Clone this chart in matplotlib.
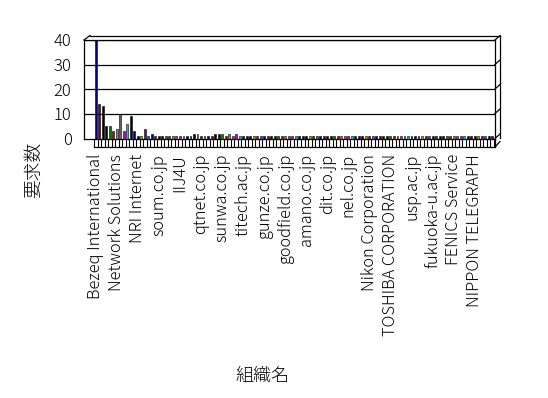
import numpy as np
import matplotlib
matplotlib.use('Agg')
import matplotlib.pyplot as plt
from matplotlib.lines import Line2D

plt.rcParams['font.family'] = ['Noto Sans CJK JP', 'DejaVu Sans']

# request counts per organisation (114 categories, labelled every 6th)
values = ([40, 14, 13, 5, 5, 3, 4, 10, 3, 6, 9, 3, 1, 1, 4, 1, 2]
          + [1] * 11
          + [2, 2, 1, 1, 1, 1, 2, 2, 2, 1, 2, 1, 2]
          + [1] * 73)
shown_labels = ['Bezeq International', 'Network Solutions', 'NRI Internet',
                'soum.co.jp', 'IIJ4U', 'qtnet.co.jp', 'sunwa.co.jp',
                'titech.ac.jp', 'gunze.co.jp', 'goodfield.co.jp', 'amano.co.jp',
                'dit.co.jp', 'nel.co.jp', 'Nikon Corporation',
                'TOSHIBA CORPORATION', 'usp.ac.jp', 'fukuoka-u.ac.jp',
                'FENICS Service', 'NIPPON TELEGRAPH']
label_step = 6
yticks = [0, 10, 20, 30, 40]
ylabel = '要求数'
xlabel = '組織名'

palette = ['#000080', '#800000', '#000000', '#000000', '#008000', '#c00000',
           '#808080', '#606060', '#c000c0', '#00c0c0', '#000000', '#000080',
           '#000000', '#a0a000', '#800080', '#008080']

W, H = 548, 398


def px(x, y):
    return (x / W, 1 - y / H)


fig = plt.figure(figsize=(W / 100, H / 100), dpi=100)
x0, y0 = px(84, 138.5)
x1, y1 = px(495, 40)
ax = fig.add_axes([x0, y0, x1 - x0, y1 - y0])

n = len(values)
idx = np.arange(n)
colors = [palette[i % len(palette)] for i in idx]
ax.bar(idx, values, width=0.55, color=colors, edgecolor='black', linewidth=0.4,
       zorder=3)

ax.set_xlim(-0.5 - 10 / 3.5, n - 0.5 + 0.3)
ax.set_ylim(0, 40)
ax.set_yticks(yticks)
ax.set_yticklabels([str(v) for v in yticks], fontsize=12, fontweight='light')
ax.tick_params(axis='y', length=0, pad=9)
for v in yticks[1:]:
    ax.axhline(v, color='black', lw=0.9, zorder=1)

# floor compartments
ax.set_xticks(np.arange(-0.5, n, 1.0))
ax.set_xticklabels([])
ax.tick_params(axis='x', which='major', direction='out', length=6.1, width=0.8)
ax.set_xticks(idx[::label_step], minor=True)
ax.set_xticklabels(shown_labels, minor=True, rotation=90, fontsize=11.8,
                   fontweight='light', va='top')
ax.tick_params(axis='x', which='minor', length=0, pad=11)

for s in ['top', 'right', 'bottom', 'left']:
    ax.spines[s].set_linewidth(0.9)
ax.spines['top'].set_visible(False)

# 3d box edges
def seg(a, b, lw=0.9):
    (xa, ya), (xb, yb) = px(*a), px(*b)
    fig.add_artist(Line2D([xa, xb], [ya, yb], color='black', lw=lw))

seg((84, 40), (90, 35.5))
seg((90, 35.5), (500, 35.5))
seg((84, 40), (495, 40))
seg((500, 35.5), (500, 138))
for yy in [40, 64.5, 89, 113.5, 138.5]:
    seg((495, yy), (500, yy - 4.5))
seg((94, 147), (495, 147))
seg((495, 138.5), (495, 147))
seg((495, 147), (500, 141.5))

fig.text(*px(34, 170), ylabel, rotation=90, fontsize=13.5, fontweight='light',
         ha='center', va='center')
fig.text(*px(262, 376), xlabel, fontsize=13, fontweight='light',
         ha='center', va='center')

fig.savefig('out.png', dpi=100)
